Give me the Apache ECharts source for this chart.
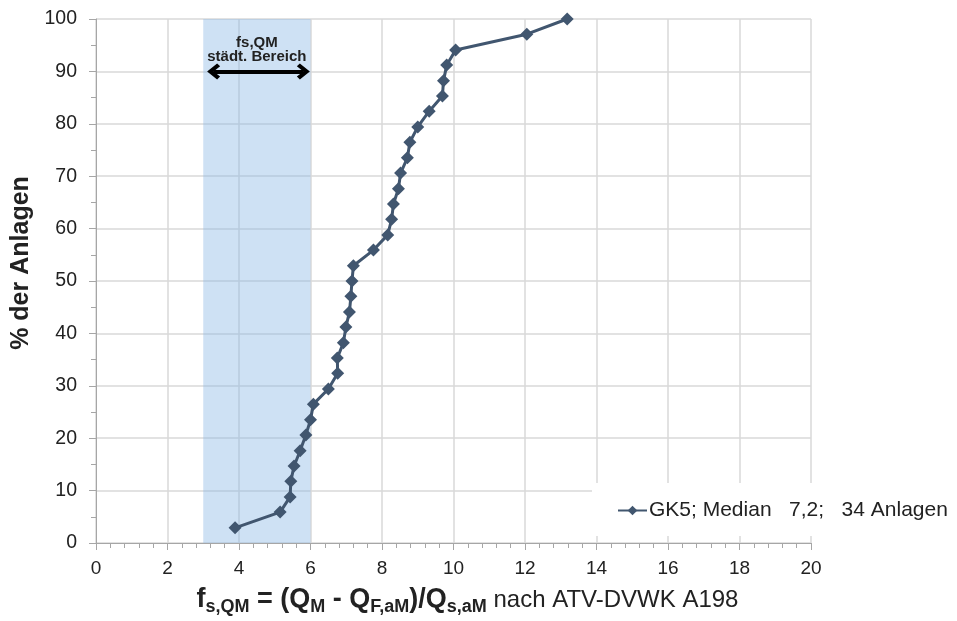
<!DOCTYPE html>
<html>
<head>
<meta charset="utf-8">
<script src="https://cdn.jsdelivr.net/npm/echarts@6/dist/echarts.min.js"></script>
<style>
html,body{margin:0;padding:0;background:#fff;}
#chart{width:957px;height:621px;}
</style>
</head>
<body>
<div id="chart"></div>
<script>
// Data
var xValues = [3.89, 5.15, 5.43, 5.45, 5.54, 5.71, 5.87, 6.0, 6.08, 6.5, 6.76, 6.75, 6.92, 6.99, 7.09, 7.13, 7.16, 7.2, 7.76, 8.16, 8.27, 8.32, 8.46, 8.52, 8.71, 8.78, 9.0, 9.32, 9.69, 9.72, 9.81, 10.06, 12.05, 13.18];
var yValues = [2.9, 5.9, 8.8, 11.8, 14.7, 17.6, 20.6, 23.5, 26.5, 29.4, 32.4, 35.3, 38.2, 41.2, 44.1, 47.1, 50, 52.9, 55.9, 58.8, 61.8, 64.7, 67.6, 70.6, 73.5, 76.5, 79.4, 82.4, 85.3, 88.2, 91.2, 94.1, 97.1, 100];
var seriesName = 'GK5; Median   7,2;   34 Anlagen';
var bandRange = [3, 6];
var arrowRange = [3.29, 5.8];
var arrowY = 90;
var bandLabel = 'fs,QM\nstädt. Bereich';

var points = xValues.map(function (x, i) { return [x, yValues[i]]; });

var chart = echarts.init(document.getElementById('chart'), null, {renderer: 'canvas'});
var FONT = 'Liberation Sans, Arial, sans-serif';
var chevron = 'path://M0,10 L10,0 L20,10 L16.5,13 L10,6.5 L3.5,13 Z';

chart.setOption({
  animation: false,
  backgroundColor: '#ffffff',
  textStyle: {fontFamily: FONT},
  grid: {left: 96, right: 146, top: 19, bottom: 76, containLabel: false},
  graphic: [{
    type: 'rect', left: 592, top: 483, z: 1,
    shape: {width: 365, height: 53},
    style: {fill: '#ffffff'}
  }],
  legend: {
    left: 612, top: 495, z: 5,
    itemWidth: 29, itemHeight: 12, itemGap: 4,
    textStyle: {fontFamily: FONT, fontSize: 21, color: '#222', padding: [0, 0, 0, -3]},
    data: [seriesName]
  },
  xAxis: {
    type: 'value', min: 0, max: 20, interval: 2,
    name: '{b|f}{s|s,QM}{b| = (Q}{s|M}{b| - Q}{s|F,aM}{b|)/Q}{s|s,aM}{n| nach ATV-DVWK A198}',
    nameLocation: 'middle', nameGap: 41,
    nameTextStyle: {
      padding: [0, 0, 0, 28],
      rich: {
        b: {fontFamily: FONT, fontSize: 27, fontWeight: 'bold', color: '#222', lineHeight: 32},
        s: {fontFamily: FONT, fontSize: 18, fontWeight: 'bold', color: '#222', lineHeight: 18, verticalAlign: 'bottom'},
        n: {fontFamily: FONT, fontSize: 24, color: '#222', lineHeight: 32}
      }
    },
    axisLine: {show: true, lineStyle: {color: '#a6a6a6', width: 1}},
    axisTick: {show: true, length: 7, lineStyle: {color: '#a6a6a6'}},
    minorTick: {show: true, splitNumber: 5, length: 5, lineStyle: {color: '#a6a6a6'}},
    axisLabel: {fontFamily: FONT, fontSize: 19, color: '#222', margin: 16},
    splitLine: {show: true, lineStyle: {color: '#d9d9d9', width: 1.5}}
  },
  yAxis: {
    type: 'value', min: 0, max: 100, interval: 10,
    name: '% der Anlagen',
    nameLocation: 'middle', nameGap: 53,
    nameTextStyle: {fontFamily: FONT, fontSize: 25, fontWeight: 'bold', color: '#222', padding: [0, 0, 0, 36]},
    axisLine: {show: true, lineStyle: {color: '#a6a6a6', width: 1}},
    axisTick: {show: true, length: 7, lineStyle: {color: '#a6a6a6'}},
    minorTick: {show: true, splitNumber: 2, length: 5, lineStyle: {color: '#a6a6a6'}},
    axisLabel: {fontFamily: FONT, fontSize: 19.5, color: '#222', margin: 19},
    splitLine: {show: true, lineStyle: {color: '#d9d9d9', width: 1.5}}
  },
  series: [{
    name: seriesName,
    type: 'line',
    data: points,
    z: 3,
    symbol: 'diamond', symbolSize: 13,
    lineStyle: {color: '#41566f', width: 3},
    itemStyle: {color: '#41566f'},
    markArea: {
      silent: true,
      itemStyle: {color: 'rgba(138,184,228,0.42)'},
      label: {
        show: true, position: 'insideTop', distance: 17,
        fontFamily: FONT, fontSize: 15, fontWeight: 'bold', color: '#222', lineHeight: 14,
        align: 'center'
      },
      data: [[{xAxis: bandRange[0], yAxis: 0, name: bandLabel}, {xAxis: bandRange[1], yAxis: 100}]]
    },
    markLine: {
      silent: true,
      symbol: [chevron, chevron],
      symbolSize: [16, 13],
      lineStyle: {color: '#000', width: 4, type: 'solid'},
      label: {show: false},
      data: [[{coord: [arrowRange[0], arrowY]}, {coord: [arrowRange[1], arrowY]}]]
    }
  }]
});
</script>
</body>
</html>
